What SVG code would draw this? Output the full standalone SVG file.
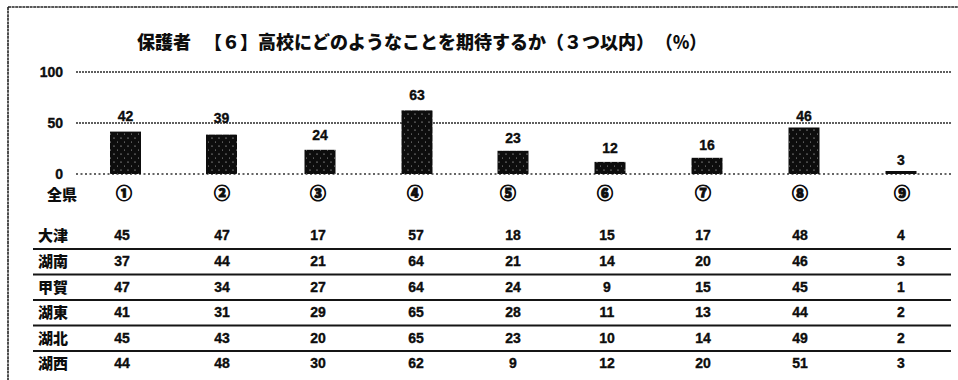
<svg xmlns="http://www.w3.org/2000/svg" width="958" height="380" viewBox="0 0 958 380">
<defs>
<pattern id="dots" width="7" height="8" patternUnits="userSpaceOnUse">
<rect width="7" height="8" fill="#0d0d0d"/>
<circle cx="2" cy="2" r="0.6" fill="#e8e8e8"/>
<circle cx="5.5" cy="6" r="0.5" fill="#bbbbbb"/>
</pattern>
<style>
.jp{font-family:"Noto Sans CJK JP","Noto Sans",sans-serif;font-weight:900;fill:#0d0d0d}
.num{font-family:"Liberation Sans",Arial,sans-serif;font-weight:bold;font-size:14px;fill:#0d0d0d;stroke:#0d0d0d;stroke-width:0.35;text-anchor:middle}
.ax{font-family:"Liberation Sans",Arial,sans-serif;font-weight:bold;font-size:14px;fill:#0d0d0d;stroke:#0d0d0d;stroke-width:0.35;text-anchor:end}
.grid{stroke:#2a2a2a;stroke-width:1.3;stroke-dasharray:2 1;fill:none}
.base{stroke:#333;stroke-width:1.3;stroke-dasharray:2 2.5;fill:none}
.rule{stroke:#151515;stroke-width:2;fill:none}
.bar{fill:url(#dots)}
.cn{font-size:16px;text-anchor:middle;stroke:#0d0d0d;stroke-width:0.9}
.rl{font-size:15px}
</style>
</defs>
<rect width="958" height="380" fill="#fff"/>
<g id="frame">
<line x1="8" y1="7" x2="958" y2="7" stroke="#222" stroke-width="1.6" stroke-dasharray="3 0.6"/>
<line x1="8" y1="7" x2="8" y2="380" stroke="#222" stroke-width="1.6" stroke-dasharray="3 0.6"/>
</g>
<g id="title">
<text class="jp" x="137" y="49" font-size="18">保護者</text>
<text class="jp" x="204" y="49" font-size="18">【６】高校にどのようなことを期待するか（３つ以内）</text>
<text class="jp" x="656" y="49" font-size="18" textLength="50" lengthAdjust="spacingAndGlyphs">（％）</text>
</g>
<g id="axis">
<line class="grid" x1="76" y1="72" x2="951" y2="72"/>
<line class="grid" x1="76" y1="123" x2="951" y2="123"/>
<line class="base" x1="76" y1="174" x2="951" y2="174"/>
<text class="ax" x="63" y="77">100</text>
<text class="ax" x="63" y="128">50</text>
<text class="ax" x="63" y="179">0</text>
</g>
<g id="bars">
<g id="bar1"><rect class="bar" x="110" y="131.6" width="31" height="42.4"/><text class="num" x="125.5" y="121">42</text></g>
<g id="bar2"><rect class="bar" x="206" y="134.6" width="31" height="39.4"/><text class="num" x="221.5" y="123">39</text></g>
<g id="bar3"><rect class="bar" x="304.5" y="149.8" width="31" height="24.2"/><text class="num" x="320" y="140">24</text></g>
<g id="bar4"><rect class="bar" x="401.5" y="110.4" width="31" height="63.6"/><text class="num" x="417" y="100">63</text></g>
<g id="bar5"><rect class="bar" x="497.5" y="150.8" width="31" height="23.2"/><text class="num" x="513" y="143">23</text></g>
<g id="bar6"><rect class="bar" x="594.5" y="161.9" width="31" height="12.1"/><text class="num" x="610" y="153">12</text></g>
<g id="bar7"><rect class="bar" x="691.5" y="157.8" width="31" height="16.2"/><text class="num" x="707" y="150">16</text></g>
<g id="bar8"><rect class="bar" x="788.5" y="127.5" width="31" height="46.5"/><text class="num" x="804" y="121">46</text></g>
<g id="bar9"><rect x="885.5" y="171" width="31" height="3" fill="#0d0d0d"/><text class="num" x="901" y="165">3</text></g>
</g>
<g id="categories" class="jp">
<text class="rl" x="47" y="200" font-size="13">全県</text>
<text class="cn" x="124" y="199">①</text>
<text class="cn" x="222" y="199">②</text>
<text class="cn" x="318" y="199">③</text>
<text class="cn" x="415" y="199">④</text>
<text class="cn" x="508" y="199">⑤</text>
<text class="cn" x="605" y="199">⑥</text>
<text class="cn" x="703" y="199">⑦</text>
<text class="cn" x="800" y="199">⑧</text>
<text class="cn" x="902" y="199">⑨</text>
</g>
<g id="connectors">
<line class="rule" x1="33" y1="249" x2="951" y2="249"/>
<line class="rule" x1="33" y1="274.5" x2="951" y2="274.5"/>
<line class="rule" x1="33" y1="300" x2="951" y2="300"/>
<line class="rule" x1="33" y1="325.5" x2="951" y2="325.5"/>
<line class="rule" x1="33" y1="351" x2="951" y2="351"/>
</g>
<g id="row-otsu">
<text class="jp rl" x="38" y="241">大津</text>
<text class="num" x="122" y="240">45</text><text class="num" x="222" y="240">47</text><text class="num" x="318" y="240">17</text><text class="num" x="416" y="240">57</text><text class="num" x="513" y="240">18</text><text class="num" x="607" y="240">15</text><text class="num" x="703" y="240">17</text><text class="num" x="800" y="240">48</text><text class="num" x="901" y="240">4</text>
</g>
<g id="row-konan">
<text class="jp rl" x="38" y="267">湖南</text>
<text class="num" x="122" y="266">37</text><text class="num" x="222" y="266">44</text><text class="num" x="318" y="266">21</text><text class="num" x="416" y="266">64</text><text class="num" x="513" y="266">21</text><text class="num" x="607" y="266">14</text><text class="num" x="703" y="266">20</text><text class="num" x="800" y="266">46</text><text class="num" x="901" y="266">3</text>
</g>
<g id="row-koka">
<text class="jp rl" x="38" y="293">甲賀</text>
<text class="num" x="122" y="292">47</text><text class="num" x="222" y="292">34</text><text class="num" x="318" y="292">27</text><text class="num" x="416" y="292">64</text><text class="num" x="513" y="292">24</text><text class="num" x="607" y="292">9</text><text class="num" x="703" y="292">15</text><text class="num" x="800" y="292">45</text><text class="num" x="901" y="292">1</text>
</g>
<g id="row-koto">
<text class="jp rl" x="38" y="318">湖東</text>
<text class="num" x="122" y="317">41</text><text class="num" x="222" y="317">31</text><text class="num" x="318" y="317">29</text><text class="num" x="416" y="317">65</text><text class="num" x="513" y="317">28</text><text class="num" x="607" y="317">11</text><text class="num" x="703" y="317">13</text><text class="num" x="800" y="317">44</text><text class="num" x="901" y="317">2</text>
</g>
<g id="row-kohoku">
<text class="jp rl" x="38" y="344">湖北</text>
<text class="num" x="122" y="343">45</text><text class="num" x="222" y="343">43</text><text class="num" x="318" y="343">20</text><text class="num" x="416" y="343">65</text><text class="num" x="513" y="343">23</text><text class="num" x="607" y="343">10</text><text class="num" x="703" y="343">14</text><text class="num" x="800" y="343">49</text><text class="num" x="901" y="343">2</text>
</g>
<g id="row-kosei">
<text class="jp rl" x="38" y="369">湖西</text>
<text class="num" x="122" y="368">44</text><text class="num" x="222" y="368">48</text><text class="num" x="318" y="368">30</text><text class="num" x="416" y="368">62</text><text class="num" x="513" y="368">9</text><text class="num" x="607" y="368">12</text><text class="num" x="703" y="368">20</text><text class="num" x="800" y="368">51</text><text class="num" x="901" y="368">3</text>
</g>
</svg>
